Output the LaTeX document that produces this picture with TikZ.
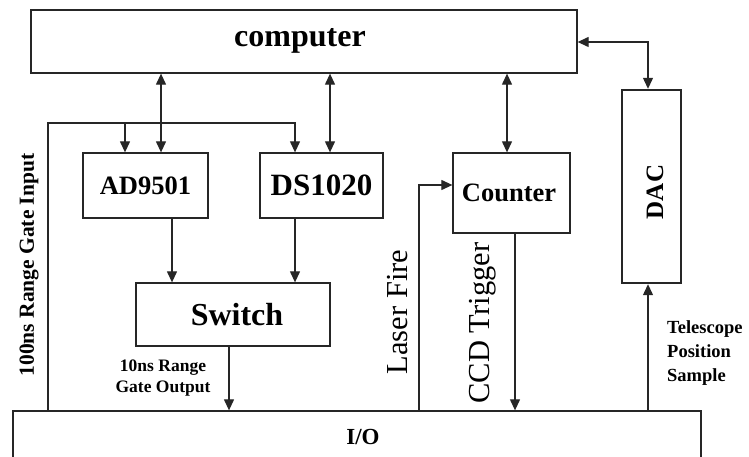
\documentclass[tikz,border=0pt]{standalone}
\usepackage{fontspec}
\setmainfont{Liberation Serif}
\usetikzlibrary{arrows.meta}
\tikzset{
  box/.style={draw=black!85, line width=1.3pt, inner sep=0pt, font=\bfseries},
  wire/.style={draw=black!85, line width=1.2pt},
  tip/.tip={Triangle[length=11pt,width=10pt]},
  arr/.style={wire, -tip},
  biarr/.style={wire, tip-tip},
  lbl/.style={inner sep=0pt, text=black}
}
\begin{document}
\begin{tikzpicture}[x=1pt,y=-1pt]
\useasboundingbox (0,0) rectangle (749,457);
\clip (0,0) rectangle (749,457);
% boxes
\node[box, minimum width=546pt, minimum height=63pt] (comp) at (304,41.5) {};
\node[lbl, font=\bfseries\fontsize{32}{38}\selectfont] (comptxt) at (300,41) {computer};
\node[box, minimum width=125pt, minimum height=65pt, font=\bfseries\fontsize{26.5}{30}\selectfont] (ad) at (145.5,185.5) {AD9501};
\node[box, minimum width=123pt, minimum height=65pt, font=\bfseries\fontsize{31}{36}\selectfont] (ds) at (321.5,185.5) {DS1020};
\node[box, minimum width=194pt, minimum height=63pt] (sw) at (233,314.5) {};
\node[lbl, font=\bfseries\fontsize{32}{38}\selectfont] (swtxt) at (237,315) {Switch};
\node[box, minimum width=117pt, minimum height=80pt] (ctr) at (511.5,193) {};
\node[lbl, font=\bfseries\fontsize{26.5}{30}\selectfont] (ctrtxt) at (509,193) {Counter};
\node[box, line width=2.4pt, minimum width=59pt, minimum height=193pt] (dac) at (651.5,186.5) {};
\node[lbl, rotate=90, font=\bfseries\fontsize{25}{30}\selectfont] (dactxt) at (655,192) {DAC};
\node[box, minimum width=688pt, minimum height=60pt] (io) at (357,441) {};
\node[lbl, font=\bfseries\fontsize{23}{28}\selectfont] (iotxt) at (363,437) {I/O};
% helper coordinates
\coordinate (xa) at (161,0);
\coordinate (xb) at (330,0);
\coordinate (xc) at (507,0);
\coordinate (bl) at (48,123);
\coordinate (bm) at (125,123);
\coordinate (br) at (295,123);
\coordinate (xd) at (172,0);
\coordinate (xe) at (229,0);
\coordinate (lf) at (419,185);
\coordinate (xf) at (515,0);
\coordinate (dk) at (648,42);
% connectors
\draw[biarr] (comp.south -| xa) -- (ad.north -| xa);
\draw[biarr] (comp.south -| xb) -- (ds.north -| xb);
\draw[biarr] (comp.south -| xc) -- (ctr.north -| xc);
\draw[arr] (io.north -| bl) -- (bl) -- (br) -- (ds.north -| br);
\draw[arr] (bm) -- (ad.north -| bm);
\draw[arr] (ad.south -| xd) -- (sw.north -| xd);
\draw[arr] (ds.south -| br) -- (sw.north -| br);
\draw[arr] (sw.south -| xe) -- (io.north -| xe);
\draw[arr] (io.north -| lf) -- (lf) -- (ctr.west |- lf);
\draw[arr] (ctr.south -| xf) -- (io.north -| xf);
\draw[biarr] (comp.east |- dk) -- (dk) -- (dac.north -| dk);
\draw[arr] (io.north -| dk) -- (dac.south -| dk);
% labels
\node[lbl, rotate=90, font=\bfseries\fontsize{21.5}{26}\selectfont] (l100) at (29,265) {100ns Range Gate Input};
\node[lbl, rotate=90, font=\fontsize{30.5}{36}\selectfont] (llf) at (398,312) {Laser Fire};
\node[lbl, rotate=90, font=\fontsize{30.5}{36}\selectfont] (lccd) at (483,323) {CCD Trigger};
\node[lbl, align=center, font=\bfseries\fontsize{17.5}{21}\selectfont] (l10) at (163,378) {10ns Range\\Gate Output};
\node[lbl, align=left, anchor=west, font=\bfseries\fontsize{18.5}{24}\selectfont] (ltel) at (667,353) {Telescope\\Position\\Sample};
\end{tikzpicture}
\end{document}
